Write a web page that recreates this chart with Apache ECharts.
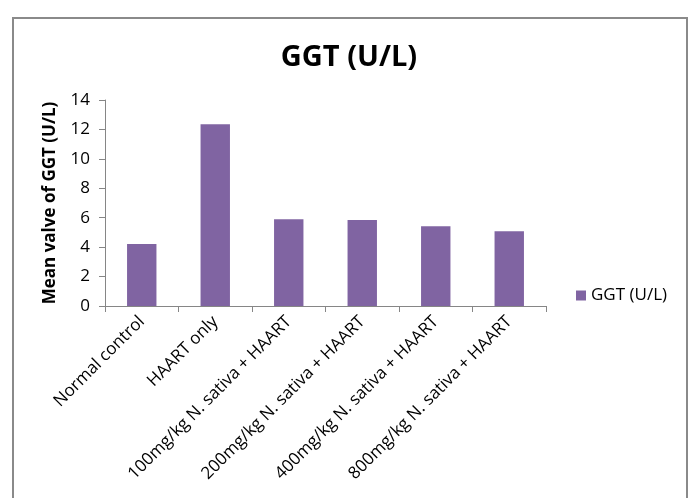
<!DOCTYPE html>
<html>
<head>
<meta charset="utf-8">
<script src="https://cdn.jsdelivr.net/npm/echarts@6/dist/echarts.min.js"></script>
<style>
  html, body { margin: 0; padding: 0; background: #fff; }
  #frame { position: absolute; left: 12px; top: 17px; width: 676px; height: 490px; border: 2px solid #8a8a8a; box-sizing: border-box; }
  #chart { position: absolute; left: 0; top: 0; width: 691px; height: 498px; }
</style>
</head>
<body>
<div id="frame"></div>
<div id="chart"></div>
<script>
// data
const categories = ['Normal control', 'HAART only', '100mg/kg N. sativa + HAART',
    '200mg/kg N. sativa + HAART', '400mg/kg N. sativa + HAART', '800mg/kg N. sativa + HAART'];
const ggtValues = [4.21, 12.35, 5.89, 5.85, 5.42, 5.08];
const seriesName = 'GGT (U/L)';

const font = 'Open Sans, Liberation Sans, sans-serif';

const myChart = echarts.init(document.getElementById('chart'));
const options = {
    animation: false,
    title: {
        text: 'GGT (U/L)',
        left: 344,
        textAlign: 'center',
        top: 38,
        textStyle: { fontFamily: font, fontSize: 29, fontWeight: 'bold', color: '#000' }
    },
    legend: {
        left: 571,
        top: 282,
        itemWidth: 10,
        itemHeight: 10,
        itemGap: 4,
        icon: 'rect',
        textStyle: { fontFamily: font, fontSize: 17, color: '#000' },
        data: [seriesName]
    },
    grid: {
        left: 105,
        right: 145,
        top: 100,
        bottom: 192
    },
    xAxis: {
        type: 'category',
        data: categories,
        axisLine: { lineStyle: { color: '#868686' } },
        axisTick: { show: true, alignWithLabel: false, length: 6, lineStyle: { color: '#868686' } },
        axisLabel: { rotate: 45, interval: 0, fontFamily: font, fontSize: 17, color: '#000', margin: 13 }
    },
    yAxis: {
        type: 'value',
        min: 0,
        max: 14,
        interval: 2,
        name: 'Mean valve of GGT (U/L)',
        nameLocation: 'middle',
        nameGap: 46,
        nameTextStyle: { fontFamily: font, fontSize: 17, fontWeight: 'bold', color: '#000' },
        axisLine: { show: true, lineStyle: { color: '#868686' } },
        axisTick: { show: true, length: 6, lineStyle: { color: '#868686' } },
        splitLine: { show: false },
        axisLabel: { fontFamily: font, fontSize: 17, color: '#000', margin: 15 }
    },
    series: [
        {
            name: seriesName,
            type: 'bar',
            data: ggtValues,
            barCategoryGap: '60%',
            itemStyle: { color: '#8064A2' }
        }
    ]
};
myChart.setOption(options);
</script>
</body>
</html>
